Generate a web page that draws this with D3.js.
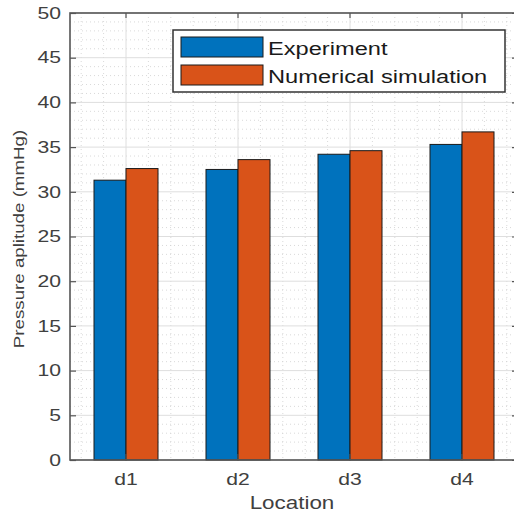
<!DOCTYPE html>
<html>
<head>
<meta charset="utf-8">
<script src="https://cdn.jsdelivr.net/npm/d3@7"></script>
<style>
  body { margin: 0; background: #fff; }
  text { font-family: "Liberation Sans", Arial, sans-serif; }
</style>
</head>
<body>
<div class="chart"></div>
<script>
// data
const locations = ["d1", "d2", "d3", "d4"];
const seriesNames = ["Experiment", "Numerical simulation"];
const experiment = [31.3, 32.5, 34.2, 35.3];
const simulation = [32.6, 33.6, 34.6, 36.7];
const yTicks = [0, 5, 10, 15, 20, 25, 30, 35, 40, 45, 50];
const colors = ["#0072BD", "#D95319"];

const W = 514, H = 517;
const margin = {top: 13, right: -4, bottom: 57, left: 70};
const width = W - margin.left - margin.right,
      height = H - margin.top - margin.bottom;

// the text in the picture is drawn wider than the font's normal width
function stretch(sel, f) {
    sel.each(function() {
        const len = this.getComputedTextLength();
        d3.select(this)
            .attr("textLength", len * f)
            .attr("lengthAdjust", "spacingAndGlyphs");
    });
}

const svg = d3.select(".chart")
    .append("svg")
    .attr("width", W)
    .attr("height", H)
    .style("overflow", "hidden");

const g = svg.append("g")
    .attr("transform", `translate(${margin.left},${margin.top})`);

const xScale = d3.scaleBand()
    .domain(locations)
    .range([0, width])
    .padding(0);

const xSub = d3.scaleBand()
    .domain(seriesNames)
    .range([-32, 32]);

// continuous version of x for minor grid (category units)
const xLin = d3.scaleLinear()
    .domain([0.5, 4.5])
    .range([0, width]);

const yScale = d3.scaleLinear()
    .domain([0, 50])
    .range([height, 0]);

// minor grid
const minorY = d3.range(0, 51, 1).filter(v => v % 5 !== 0);
g.append("g").selectAll("line")
    .data(minorY)
    .enter().append("line")
    .attr("x1", 0).attr("x2", width)
    .attr("y1", d => yScale(d)).attr("y2", d => yScale(d))
    .attr("stroke", "#cfcfcf")
    .attr("stroke-width", 0.8)
    .attr("stroke-dasharray", "1,3");

const minorX = d3.range(0.6, 4.45, 0.2).filter(v => Math.abs(v - Math.round(v)) > 0.05);
g.append("g").selectAll("line")
    .data(minorX)
    .enter().append("line")
    .attr("x1", d => xLin(d)).attr("x2", d => xLin(d))
    .attr("y1", 0).attr("y2", height)
    .attr("stroke", "#cfcfcf")
    .attr("stroke-width", 0.8)
    .attr("stroke-dasharray", "1,3");

// major grid
g.append("g").selectAll("line")
    .data(yTicks)
    .enter().append("line")
    .attr("x1", 0).attr("x2", width)
    .attr("y1", d => yScale(d)).attr("y2", d => yScale(d))
    .attr("stroke", "#dedede")
    .attr("stroke-width", 1);

g.append("g").selectAll("line")
    .data(locations)
    .enter().append("line")
    .attr("x1", d => xScale(d) + xScale.bandwidth() / 2)
    .attr("x2", d => xScale(d) + xScale.bandwidth() / 2)
    .attr("y1", 0).attr("y2", height)
    .attr("stroke", "#dedede")
    .attr("stroke-width", 1);

// bars
const rows = locations.map((loc, i) => ({
    loc: loc,
    values: [experiment[i], simulation[i]]
}));

const groups = g.append("g").selectAll("g")
    .data(rows)
    .enter().append("g")
    .attr("transform", d => `translate(${xScale(d.loc) + xScale.bandwidth() / 2},0)`);

groups.selectAll("rect")
    .data(d => d.values.map((v, j) => ({name: seriesNames[j], value: v, j: j})))
    .enter().append("rect")
    .attr("x", d => xSub(d.name))
    .attr("width", xSub.bandwidth())
    .attr("y", d => yScale(d.value))
    .attr("height", d => height - yScale(d.value))
    .attr("fill", d => colors[d.j])
    .attr("stroke", "#1a1a1a")
    .attr("stroke-width", 1);

// axes (box)
const axisColor = "#555";
const yAxis = d3.axisLeft(yScale)
    .tickValues(yTicks)
    .tickSizeInner(-6)
    .tickSizeOuter(0)
    .tickPadding(9);
const yAx = g.append("g").attr("class", "axis y-axis").call(yAxis);
yAx.select(".domain").remove();
yAx.selectAll("line").attr("stroke", axisColor).attr("stroke-width", 1.2);
yAx.selectAll("text")
    .attr("font-size", 16.5)
    .attr("fill", "#404040")
    .call(stretch, 1.28);

const yAxisR = d3.axisRight(yScale)
    .tickValues(yTicks)
    .tickSizeInner(-6)
    .tickSizeOuter(0)
    .tickFormat("");
const yAxR = g.append("g").attr("transform", `translate(${width},0)`).call(yAxisR);
yAxR.select(".domain").remove();
yAxR.selectAll("line").attr("stroke", axisColor).attr("stroke-width", 1.2);

const xAxis = d3.axisBottom(xScale)
    .tickSizeInner(-6)
    .tickSizeOuter(0)
    .tickPadding(13);
const xAx = g.append("g")
    .attr("class", "axis x-axis")
    .attr("transform", `translate(0,${height})`)
    .call(xAxis);
xAx.select(".domain").remove();
xAx.selectAll("line").attr("stroke", axisColor).attr("stroke-width", 1.2);
xAx.selectAll("text")
    .attr("font-size", 16.5)
    .attr("fill", "#404040")
    .call(stretch, 1.28);

const xAxisTop = d3.axisTop(xScale)
    .tickSizeInner(-5)
    .tickSizeOuter(0)
    .tickFormat("");
const xAxT = g.append("g").call(xAxisTop);
xAxT.select(".domain").remove();
xAxT.selectAll("line").attr("stroke", axisColor).attr("stroke-width", 1.2);

g.append("rect")
    .attr("x", 0).attr("y", 0)
    .attr("width", width).attr("height", height)
    .attr("fill", "none")
    .attr("stroke", axisColor)
    .attr("stroke-width", 1.6);

// labels
svg.append("text")
    .attr("x", margin.left + xLin(2.5) - 2)
    .attr("y", 509)
    .attr("text-anchor", "middle")
    .attr("font-size", 17.5)
    .attr("fill", "#404040")
    .text("Location")
    .call(stretch, 1.28);

svg.append("text")
    .attr("transform", "translate(24,239) rotate(-90)")
    .attr("text-anchor", "middle")
    .attr("font-size", 14.5)
    .attr("fill", "#404040")
    .text("Pressure aplitude (mmHg)")
    .call(stretch, 1.29);

// legend
const legend = svg.append("g").attr("transform", "translate(173,30)");
legend.append("rect")
    .attr("width", 332).attr("height", 62)
    .attr("fill", "#fff")
    .attr("stroke", "#333")
    .attr("stroke-width", 1.5);

legend.selectAll(".legend-color")
    .data(seriesNames)
    .enter().append("rect")
    .attr("x", 8)
    .attr("y", (d, i) => 7 + i * 28)
    .attr("width", 82)
    .attr("height", 20)
    .attr("fill", (d, i) => colors[i])
    .attr("stroke", "#1a1a1a")
    .attr("stroke-width", 1);

legend.selectAll(".legend-text")
    .data(seriesNames)
    .enter().append("text")
    .attr("x", 95)
    .attr("y", (d, i) => 25 + i * 28)
    .attr("font-size", 17.5)
    .attr("fill", "#1a1a1a")
    .text(d => d)
    .call(stretch, 1.35);
</script>
</body>
</html>
